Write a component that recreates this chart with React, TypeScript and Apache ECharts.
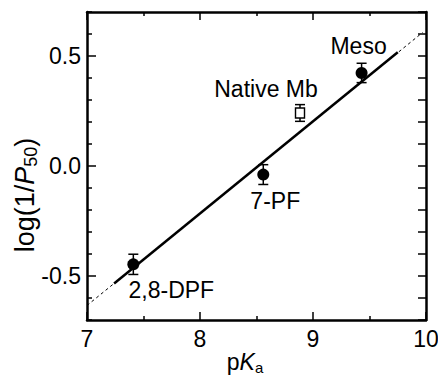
import React, { useEffect, useRef } from "react";
import * as echarts from "echarts";

// ---- data ----
const names = ["2,8-DPF", "7-PF", "Native Mb", "Meso"];
const pKa = [7.41, 8.56, 8.885, 9.43];
const logInvP50 = [-0.447, -0.039, 0.241, 0.423];
const errors = [0.046, 0.045, 0.038, 0.044];
const filled = [true, true, false, true];

const fitSolidX = [7.24, 9.75];
const fitSolidY = [-0.534, 0.517];
const fitDashX = [7.0, 9.97];
const fitDashY = [-0.634, 0.607];

const xTickLabels = [7, 8, 9, 10];
const yTickLabels = [-0.5, 0.0, 0.5];
const yMinorTicks = [-0.7, -0.6, -0.4, -0.3, -0.2, -0.1, 0.1, 0.2, 0.3, 0.4, 0.6, 0.7];
const yRightTicks = [-0.7, -0.6, -0.5, -0.4, -0.3, -0.2, -0.1, 0.0, 0.1, 0.2, 0.3, 0.4, 0.5, 0.6, 0.7];

const FONT = "'Liberation Sans', Arial, Helvetica, sans-serif";

export default function App() {
  const ref = useRef<HTMLDivElement>(null);

  useEffect(() => {
    if (!ref.current) return;
    const chart = echarts.init(ref.current, null, { renderer: "svg" });

    const labelOffsets: Record<string, number[]> = {
      "2,8-DPF": [38, 26],
      "7-PF": [12, 26],
      "Native Mb": [-34, -24],
      "Meso": [-3, -27],
    };

    const pointData = names.map((n, i) => ({
      name: n,
      value: [pKa[i], logInvP50[i]],
      symbol: filled[i] ? "circle" : "rect",
      symbolSize: filled[i] ? 12 : [9, 10],
      itemStyle: filled[i]
        ? { color: "#000", borderWidth: 0, opacity: 1 }
        : { color: "#fff", borderColor: "#000", borderWidth: 1.5, opacity: 1 },
      label: {
        show: true,
        formatter: n,
        position: "inside",
        offset: labelOffsets[n],
        color: "#000",
        fontSize: 23,
        fontFamily: FONT,
      },
    }));

    const errData = names.map((_, i) => [pKa[i], logInvP50[i], errors[i]]);

    const axisLineStyle = { color: "#000", width: 2.5 };
    const tickStyle = { color: "#000", width: 1.5 };

    const option: any = {
      animation: false,
      backgroundColor: "#fff",
      grid: { left: 87, right: 12, top: 12, bottom: 57, containLabel: false, outerBoundsMode: "none" },
      xAxis: [
        {
          type: "value",
          position: "bottom",
          min: 7,
          max: 10,
          interval: 1,
          axisLine: { show: true, onZero: false, lineStyle: axisLineStyle },
          axisTick: { show: true, inside: true, length: 8, lineStyle: tickStyle },
          minorTick: { show: true, splitNumber: 2, length: 4, lineStyle: tickStyle },
          axisLabel: {
            show: true,
            customValues: xTickLabels,
            color: "#000",
            fontSize: 23,
            fontFamily: FONT,
            margin: 7,
            hideOverlap: false,
          },
          splitLine: { show: false },
          minorSplitLine: { show: false },
        },
        {
          type: "value",
          position: "top",
          min: 7,
          max: 10,
          interval: 1,
          axisLine: { show: true, onZero: false, lineStyle: axisLineStyle },
          axisTick: { show: true, inside: true, length: 8, lineStyle: tickStyle },
          minorTick: { show: true, splitNumber: 2, length: 4, lineStyle: tickStyle },
          axisLabel: { show: false },
          splitLine: { show: false },
        },
      ],
      yAxis: [
        {
          type: "value",
          position: "left",
          min: -0.7,
          max: 0.7,
          axisLine: { show: true, onZero: false, lineStyle: axisLineStyle },
          axisTick: { show: true, inside: true, length: 9, customValues: yTickLabels, lineStyle: tickStyle },
          axisLabel: {
            show: true,
            customValues: yTickLabels,
            formatter: (v: number) => v.toFixed(1),
            color: "#000",
            fontSize: 23,
            fontFamily: FONT,
            margin: 6,
          },
          splitLine: { show: false },
        },
        {
          type: "value",
          position: "left",
          min: -0.7,
          max: 0.7,
          axisLine: { show: false, onZero: false },
          axisTick: { show: true, inside: true, length: 5, customValues: yMinorTicks, lineStyle: tickStyle },
          axisLabel: { show: false },
          splitLine: { show: false },
        },
        {
          type: "value",
          position: "right",
          min: -0.7,
          max: 0.7,
          axisLine: { show: true, onZero: false, lineStyle: axisLineStyle },
          axisTick: { show: true, inside: true, length: 8, customValues: yRightTicks, lineStyle: tickStyle },
          axisLabel: { show: false },
          splitLine: { show: false },
        },
      ],
      graphic: [
        {
          type: "text",
          x: 25,
          y: 195,
          rotation: Math.PI / 2,
          style: {
            text: "{n|log(1/}{i|P}{s|50}{n|)}",
            align: "center",
            verticalAlign: "middle",
            fill: "#000",
            rich: {
              n: { fontSize: 27, fontFamily: FONT, fill: "#000", lineHeight: 30, verticalAlign: "middle" },
              i: { fontSize: 27, fontFamily: FONT, fontStyle: "italic", fill: "#000", lineHeight: 30, verticalAlign: "middle" },
              s: { fontSize: 18, fontFamily: FONT, fill: "#000", lineHeight: 30, verticalAlign: "bottom" },
            },
          },
        },
        {
          type: "text",
          x: 245,
          y: 362,
          style: {
            text: "{n|p}{i|K}{s|a}",
            align: "center",
            verticalAlign: "middle",
            fill: "#000",
            rich: {
              n: { fontSize: 23, fontFamily: FONT, fill: "#000", lineHeight: 26, verticalAlign: "middle" },
              i: { fontSize: 23, fontFamily: FONT, fontStyle: "italic", fill: "#000", lineHeight: 26, verticalAlign: "middle" },
              s: { fontSize: 15, fontFamily: FONT, fill: "#000", lineHeight: 26, verticalAlign: "bottom" },
            },
          },
        },
      ],
      series: [
        {
          type: "line",
          xAxisIndex: 0,
          yAxisIndex: 0,
          data: fitDashX.map((x, i) => [x, fitDashY[i]]),
          symbol: "none",
          lineStyle: { color: "#000", width: 1, type: [3, 3] },
          silent: true,
          z: 1,
        },
        {
          type: "line",
          xAxisIndex: 0,
          yAxisIndex: 0,
          data: fitSolidX.map((x, i) => [x, fitSolidY[i]]),
          symbol: "none",
          lineStyle: { color: "#000", width: 2.5 },
          silent: true,
          z: 2,
        },
        {
          type: "custom",
          xAxisIndex: 0,
          yAxisIndex: 0,
          data: errData,
          z: 3,
          renderItem: (params: any, api: any) => {
            const x = api.value(0);
            const y = api.value(1);
            const e = api.value(2);
            const top = api.coord([x, y + e]);
            const bot = api.coord([x, y - e]);
            const hw = 5;
            const style = { stroke: "#000", lineWidth: 1.5 };
            return {
              type: "group",
              children: [
                { type: "line", shape: { x1: top[0], y1: top[1], x2: bot[0], y2: bot[1] }, style },
                { type: "line", shape: { x1: top[0] - hw, y1: top[1], x2: top[0] + hw, y2: top[1] }, style },
                { type: "line", shape: { x1: bot[0] - hw, y1: bot[1], x2: bot[0] + hw, y2: bot[1] }, style },
              ],
            };
          },
        },
        {
          type: "scatter",
          xAxisIndex: 0,
          yAxisIndex: 0,
          data: pointData,
          z: 4,
        },
      ],
    };

    chart.setOption(option);
    return () => chart.dispose();
  }, []);

  return (
    <div
      ref={ref}
      style={{ position: "fixed", left: 0, top: 0, width: 438, height: 377, background: "#fff" }}
    />
  );
}
